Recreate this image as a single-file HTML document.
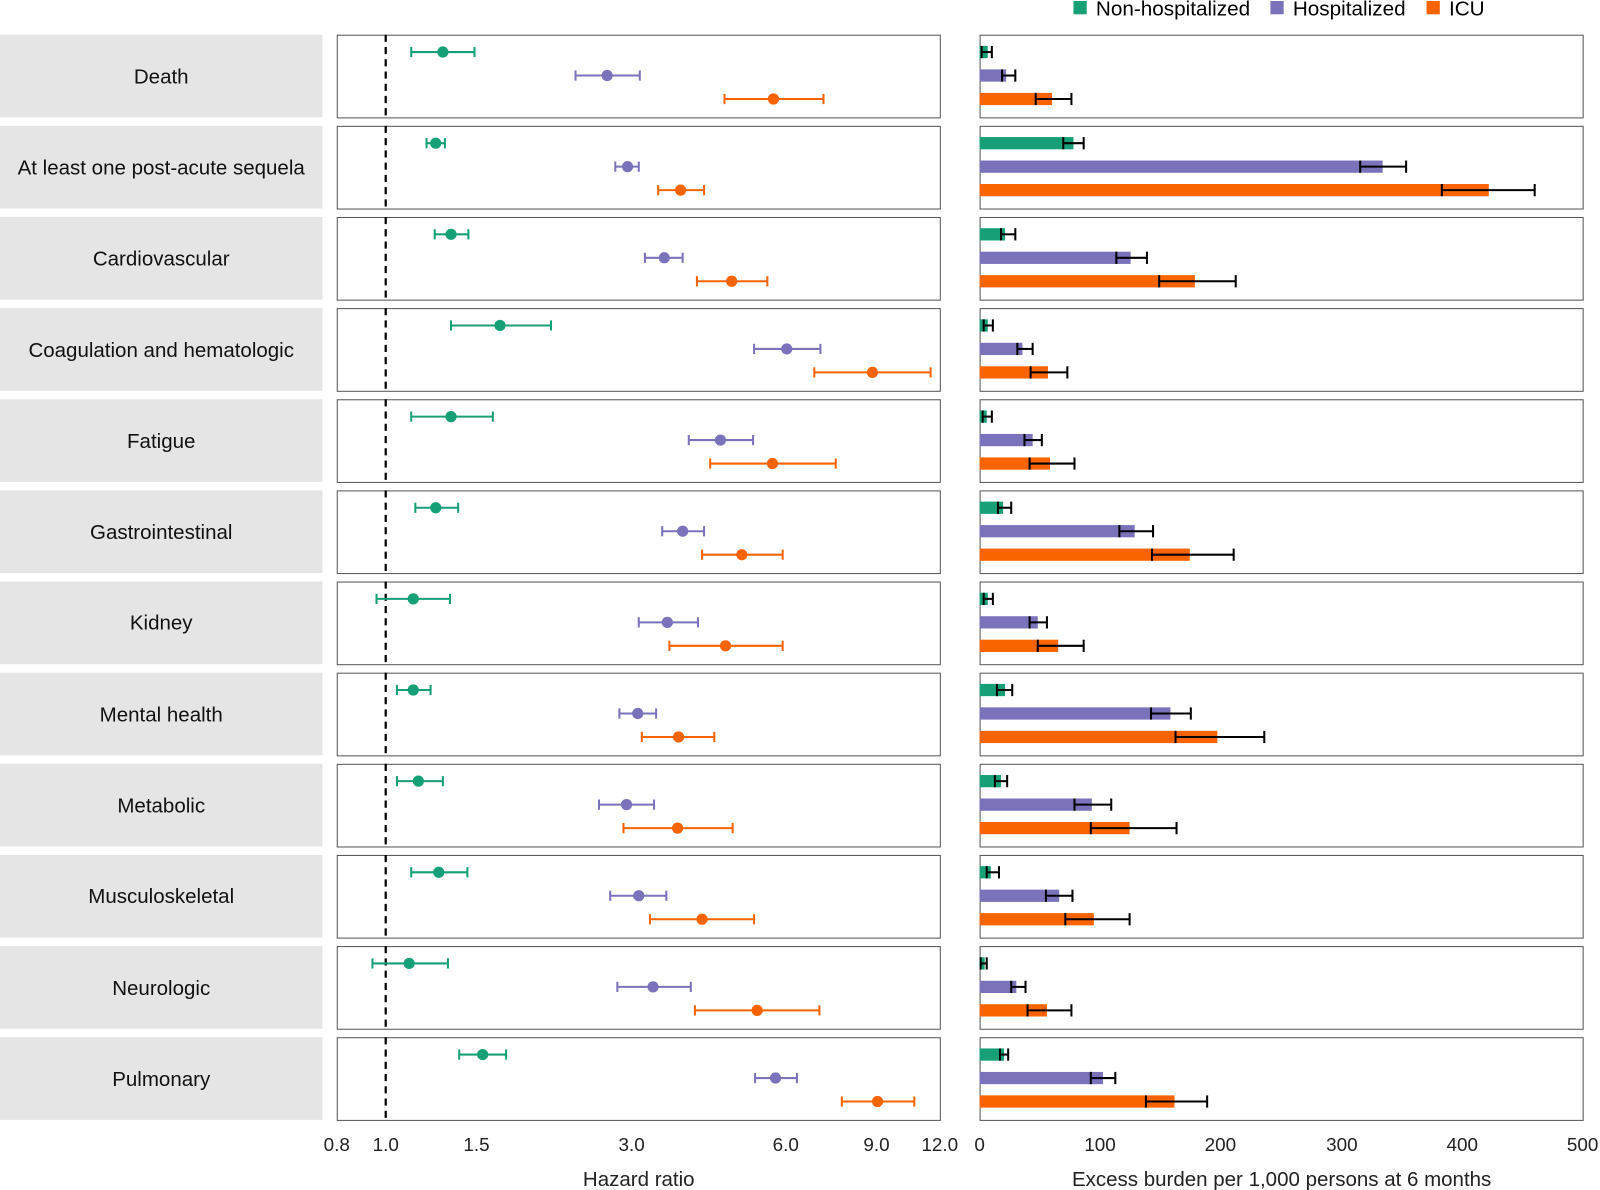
<!DOCTYPE html>
<html><head><meta charset="utf-8"><style>
html,body{margin:0;padding:0;background:#fff;}
svg{display:block;font-family:"Liberation Sans",Arial,sans-serif;}
</style></head><body>
<svg id="s" width="1600" height="1190" viewBox="0 0 1568 1166" preserveAspectRatio="none" xmlns="http://www.w3.org/2000/svg">
<g font-size="20.3" fill="#000">
<rect x="1052" y="1" width="13" height="13" fill="#17a078"/><text x="1074" y="15">Non-hospitalized</text>
<rect x="1245" y="1" width="13" height="13" fill="#7a72bb"/><text x="1267" y="15">Hospitalized</text>
<rect x="1398" y="1" width="13" height="13" fill="#fa6400"/><text x="1420" y="15">ICU</text>
</g>
<g id="rows"></g>
<g font-size="20.1" fill="#111" text-anchor="middle">
<text x="158" y="82">Death</text>
<text x="158" y="171">At least one post-acute sequela</text>
<text x="158" y="260">Cardiovascular</text>
<text x="158" y="350">Coagulation and hematologic</text>
<text x="158" y="439">Fatigue</text>
<text x="158" y="528">Gastrointestinal</text>
<text x="158" y="617">Kidney</text>
<text x="158" y="707">Mental health</text>
<text x="158" y="796">Metabolic</text>
<text x="158" y="885">Musculoskeletal</text>
<text x="158" y="975">Neurologic</text>
<text x="158" y="1064">Pulmonary</text>
</g>
<g font-size="18.5" fill="#222" text-anchor="middle">
<text x="330" y="1128">0.8</text><text x="378" y="1128">1.0</text><text x="467" y="1128">1.5</text>
<text x="619" y="1128">3.0</text><text x="770" y="1128">6.0</text><text x="859" y="1128">9.0</text><text x="921" y="1128">12.0</text>
<text x="960" y="1128">0</text><text x="1078" y="1128">100</text><text x="1196" y="1128">200</text>
<text x="1315" y="1128">300</text><text x="1433" y="1128">400</text><text x="1551" y="1128">500</text>
<text x="626" y="1162" font-size="20.1">Hazard ratio</text>
<text x="1256" y="1162" font-size="20.1">Excess burden per 1,000 persons at 6 months</text>
</g>
</svg>
<script>
const C=["#17a078","#7a72bb","#fa6400"];
const F=[[[434,403,465],[595,564,627],[758,710,807]],[[427,418,436],[615,603,626],[667,645,690]],[[442,426,459],[651,632,669],[717,683,752]],[[490,442,540],[771,739,804],[855,798,912]],[[442,403,483],[706,675,738],[757,696,819]],[[427,407,449],[669,649,690],[727,688,767]],[[405,369,441],[654,626,684],[711,656,767]],[[405,389,422],[625,607,643],[665,629,700]],[[410,389,434],[614,587,641],[664,611,718]],[[430,403,458],[626,598,653],[688,637,739]],[[401,365,439],[640,605,677],[742,681,803]],[[473,450,496],[760,740,781],[860,825,896]]];
const B=[[[968,962,972],[986,982,995],[1031,1015,1050]],[[1052,1042,1062],[1355,1333,1378],[1459,1413,1504]],[[985,981,995],[1108,1094,1124],[1171,1136,1211]],[[968,964,973],[1002,997,1012],[1027,1010,1046]],[[967,963,972],[1012,1004,1021],[1029,1009,1053]],[[983,978,991],[1112,1097,1130],[1166,1129,1209]],[[968,964,973],[1017,1009,1026],[1037,1017,1062]],[[985,977,992],[1147,1128,1167],[1193,1152,1239]],[[981,975,987],[1070,1053,1089],[1107,1069,1153]],[[971,967,979],[1038,1025,1051],[1072,1044,1107]],[[965,961,967],[996,991,1005],[1026,1007,1050]],[[984,980,988],[1081,1069,1093],[1151,1123,1183]]];
let h="";
for(let i=0;i<12;i++){
 const t=34+i*89.3;
 h+=`<rect x="0" y="${t}" width="316" height="81" fill="#e5e5e5"/>`;
 h+=`<rect x="330.5" y="${t+0.5}" width="591" height="81" fill="#fff" stroke="#555" stroke-width="1"/>`;
 h+=`<rect x="960.5" y="${t+0.5}" width="591" height="81" fill="#fff" stroke="#555" stroke-width="1"/>`;
 h+=`<line x1="378" y1="${t}" x2="378" y2="${t+82}" stroke="#000" stroke-width="2.2" stroke-dasharray="7,5"/>`;
 for(let k=0;k<3;k++){
  const y=t+17+k*23, [c,l,r]=F[i][k], col=C[k];
  h+=`<line x1="${l}" y1="${y}" x2="${r}" y2="${y}" stroke="${col}" stroke-width="2"/>`;
  h+=`<line x1="${l}" y1="${y-5}" x2="${l}" y2="${y+5}" stroke="${col}" stroke-width="2"/>`;
  h+=`<line x1="${r}" y1="${y-5}" x2="${r}" y2="${y+5}" stroke="${col}" stroke-width="2"/>`;
  h+=`<circle cx="${c}" cy="${y}" r="5.5" fill="${col}"/>`;
  const [e,bl,br]=B[i][k];
  h+=`<rect x="960" y="${y-6}" width="${e-960}" height="12" fill="${col}"/>`;
  h+=`<line x1="${bl}" y1="${y}" x2="${br}" y2="${y}" stroke="#000" stroke-width="2"/>`;
  h+=`<line x1="${bl}" y1="${y-6}" x2="${bl}" y2="${y+6}" stroke="#000" stroke-width="2"/>`;
  h+=`<line x1="${br}" y1="${y-6}" x2="${br}" y2="${y+6}" stroke="#000" stroke-width="2"/>`;
 }
}
document.getElementById("rows").innerHTML=h;
</script>
</body></html>
